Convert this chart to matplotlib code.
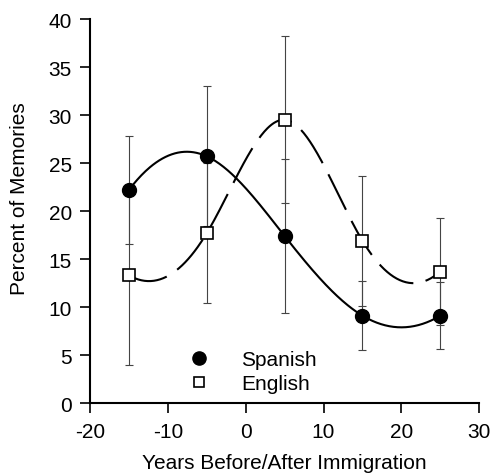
import numpy as np
import matplotlib
matplotlib.use("Agg")
import matplotlib.pyplot as plt

plt.rcParams["font.family"] = ["Liberation Sans", "DejaVu Sans"]
plt.rcParams["axes.unicode_minus"] = False

years = [-15, -5, 5, 15, 25]
spanish = [22.2, 25.7, 17.4, 9.1, 9.1]
spanish_err = [5.6, 7.3, 8.0, 3.6, 3.5]
english = [13.3, 17.7, 29.5, 16.9, 13.7]
english_err = [9.3, 7.3, 8.7, 6.8, 5.6]


def spline(x, y, xs):
    # cubic spline with parabolic run-out ends, for the smooth line
    x = np.asarray(x, float); y = np.asarray(y, float)
    n = len(x)
    h = np.diff(x)
    A = np.zeros((n, n)); b = np.zeros(n)
    A[0, 0], A[0, 1] = 1, -1
    A[-1, -1], A[-1, -2] = 1, -1
    for i in range(1, n - 1):
        A[i, i - 1] = h[i - 1]; A[i, i] = 2 * (h[i - 1] + h[i]); A[i, i + 1] = h[i]
        b[i] = 6 * ((y[i + 1] - y[i]) / h[i] - (y[i] - y[i - 1]) / h[i - 1])
    M = np.linalg.solve(A, b)
    idx = np.clip(np.searchsorted(x, xs) - 1, 0, n - 2)
    x0, x1 = x[idx], x[idx + 1]; hh = x1 - x0
    return (M[idx] * (x1 - xs) ** 3 / (6 * hh) + M[idx + 1] * (xs - x0) ** 3 / (6 * hh)
            + (y[idx] / hh - M[idx] * hh / 6) * (x1 - xs)
            + (y[idx + 1] / hh - M[idx + 1] * hh / 6) * (xs - x0))


fig = plt.figure(figsize=(4.92, 4.77), dpi=100)
ax = fig.add_axes([0.183, 0.153, 0.791, 0.805])

xs = np.linspace(years[0], years[-1], 300)
ax.errorbar(years, spanish, yerr=spanish_err, fmt="none", ecolor="#444", elinewidth=0.8, capsize=3, capthick=0.8, zorder=1)
ax.errorbar(years, english, yerr=english_err, fmt="none", ecolor="#444", elinewidth=0.8, capsize=3, capthick=0.8, zorder=1)
ax.plot(xs, spline(years, spanish, xs), color="black", lw=1.5, zorder=2)
ax.plot(xs, spline(years, english, xs), color="black", lw=1.5, dashes=(19, 6), zorder=2)
ax.plot(years, spanish, "o", color="black", ms=10, zorder=3, label="Spanish")
ax.plot(years, english, "s", mfc="white", mec="black", mew=1.2, ms=8, zorder=3, label="English")

ax.legend(loc="lower left", bbox_to_anchor=(0.204, -0.023), frameon=False, fontsize=15,
          handletextpad=1.55, labelspacing=0.25, handlelength=1.0, markerscale=0.95)

ax.set_xlim(-20, 30)
ax.set_ylim(0, 40)
ax.set_xticks([-20, -10, 0, 10, 20, 30])
ax.set_yticks(range(0, 41, 5))
ax.spines["top"].set_visible(False)
ax.spines["right"].set_visible(False)
for s in ("left", "bottom"):
    ax.spines[s].set_linewidth(1.5)
ax.tick_params(direction="out", length=7, width=1.2, labelsize=15)
ax.tick_params(axis="x", pad=7)
ax.tick_params(axis="y", pad=6)
ax.set_xlabel("Years Before/After Immigration", fontsize=15, labelpad=8)
ax.set_ylabel("Percent of Memories", fontsize=15)
ax.yaxis.set_label_coords(-0.157, 0.536)

fig.savefig("out.png", dpi=100)
